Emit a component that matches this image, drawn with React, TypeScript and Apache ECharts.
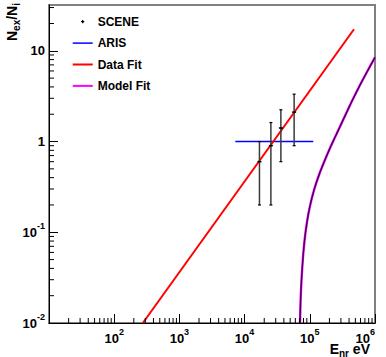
import React, { useEffect, useRef } from "react";
import * as echarts from "echarts";

// SCENE measurements: nuclear recoil energy (eV), ratio, error-bar bounds
const SCENE_ENERGY = [16900, 25300, 36000, 57500];
const SCENE_RATIO = [0.6, 0.9, 1.41, 2.11];
const SCENE_LOW = [0.2, 0.2, 0.6, 0.9];
const SCENE_HIGH = [1.0, 1.62, 2.24, 3.33];

// ARIS: single ratio with a horizontal energy span
const ARIS_ENERGY = [7200, 113000];
const ARIS_RATIO = [1.0, 1.0];

// Power-law fit to the data
const DATA_FIT_ENERGY = [275, 476000];
const DATA_FIT_RATIO = [0.01, 17.3];

// Model fit curve
const MODEL_FIT_ENERGY = [
  70740, 72250, 74590, 78080, 83230, 90600, 100700, 116000, 138400, 168100,
  207700, 261400, 334600, 443800, 588800, 767400, 1000000,
];
const MODEL_FIT_RATIO = [
  0.01, 0.0179, 0.0298, 0.0495, 0.0822, 0.13, 0.195, 0.292, 0.428, 0.61,
  0.871, 1.243, 1.82, 2.8, 4.2, 6.0, 8.49,
];

// Axis ranges and ticks
const X_MIN = 10;
const X_MAX = 1000000;
const Y_MIN = 0.01;
const Y_MAX = 32;
const X_MAJOR_TICKS = [10, 100, 1000, 10000, 100000, 1000000];
const Y_MAJOR_TICKS = [0.01, 0.1, 1, 10];
const X_DECADES = [10, 100, 1000, 10000, 100000];
const Y_DECADES = [0.01, 0.1, 1, 10];
const MINOR_STEPS = [2, 3, 4, 5, 6, 7, 8, 9];

const FONT = "'Liberation Sans', Arial, Helvetica, sans-serif";

const xMinor = X_DECADES.flatMap((d) => MINOR_STEPS.map((s) => d * s)).filter((v) => v < X_MAX);
const yMinor = Y_DECADES.flatMap((d) => MINOR_STEPS.map((s) => d * s)).filter((v) => v < Y_MAX);

const powerLabel = (v: number, plainUpTo: number) => {
  const e = Math.round(Math.log10(v));
  if (Math.abs(Math.log10(v) - e) > 1e-6) return "";
  if (e === 0) return "{b|1}";
  if (e === 1 && plainUpTo >= 1) return "{b|10}";
  return `{b|10}{s|${e}}`;
};

const labelRich = {
  b: { fontFamily: FONT, fontWeight: "bold", fontSize: 13, lineHeight: 22, color: "#000" },
  s: { fontFamily: FONT, fontWeight: "bold", fontSize: 9, lineHeight: 10, verticalAlign: "top", color: "#000" },
};

// Legend icons: the leading moves fix the icon box at 20x14 so the glyph keeps its size
const ICON_MARKER = "path://M0,0M20,14M9.4,5.4h1.2v1.0h1.0v1.2h-1.0v1.0h-1.2v-1.0h-1.0v-1.2h1.0z";
const ICON_THIN_LINE = "path://M0,0M20,14M0,6.25h20v1.5h-20z";
const ICON_LINE = "path://M0,0M20,14M0,6h20v2h-20z";

export default function App() {
  const ref = useRef<HTMLDivElement>(null);

  useEffect(() => {
    if (!ref.current) return;
    const chart = echarts.init(ref.current, undefined, { renderer: "svg" });

    const option: any = {
      animation: false,
      backgroundColor: "#fff",
      grid: {
        left: 49,
        right: 11,
        top: 5,
        bottom: 34,
        show: true,
        borderColor: "#808080",
        borderWidth: 2,
        backgroundColor: "transparent",
      },
      legend: {
        orient: "vertical",
        left: 67.7,
        top: 9.7,
        itemWidth: 20,
        itemHeight: 14,
        itemGap: 7.4,
        selectedMode: false,
        textStyle: { fontFamily: FONT, fontWeight: "bold", fontSize: 12, color: "#000" },
        data: [
          { name: "SCENE", icon: ICON_MARKER },
          { name: "ARIS", icon: ICON_THIN_LINE },
          { name: "Data Fit", icon: ICON_LINE },
          { name: "Model Fit", icon: ICON_LINE },
        ],
      },
      xAxis: {
        type: "log",
        logBase: 10,
        min: X_MIN,
        max: X_MAX,
        axisLine: { show: true, onZero: false, lineStyle: { color: "#000", width: 1 } },
        axisTick: { show: true, inside: true, length: 9, lineStyle: { color: "#000" }, customValues: X_MAJOR_TICKS },
        axisLabel: {
          show: true,
          margin: 4,
          alignMaxLabel: "right",
          customValues: X_MAJOR_TICKS.slice(1),
          formatter: (v: number) => powerLabel(v, 0),
          rich: labelRich,
        },
        splitLine: { show: false },
        minorTick: { show: false },
      },
      yAxis: {
        type: "log",
        logBase: 10,
        min: Y_MIN,
        max: Y_MAX,
        axisLine: { show: true, onZero: false, lineStyle: { color: "#000", width: 1 } },
        axisTick: { show: true, inside: true, length: 9, lineStyle: { color: "#000" }, customValues: Y_MAJOR_TICKS },
        axisLabel: {
          show: true,
          margin: 4,
          customValues: Y_MAJOR_TICKS,
          formatter: (v: number) => powerLabel(v, 1),
          rich: labelRich,
        },
        splitLine: { show: false },
        minorTick: { show: false },
      },
      graphic: [
        {
          type: "text",
          x: 12,
          y: 3,
          rotation: Math.PI / 2,
          style: {
            text: "{b|N}{s|ex}{b|/N}{s|i}",
            align: "right",
            verticalAlign: "middle",
            rich: {
              b: { fontFamily: FONT, fontWeight: "bold", fontSize: 14, lineHeight: 18, fill: "#000" },
              s: { fontFamily: FONT, fontWeight: "bold", fontSize: 10, lineHeight: 10, verticalAlign: "bottom", fill: "#000" },
            },
          },
        },
        {
          type: "text",
          x: 370,
          y: 349,
          style: {
            text: "{b|E}{s|nr}{b| eV}",
            align: "right",
            verticalAlign: "middle",
            rich: {
              b: { fontFamily: FONT, fontWeight: "bold", fontSize: 14, lineHeight: 18, fill: "#000" },
              s: { fontFamily: FONT, fontWeight: "bold", fontSize: 10, lineHeight: 10, verticalAlign: "bottom", fill: "#000" },
            },
          },
        },
      ],
      series: [
        {
          name: "xMinorTicks",
          type: "custom",
          silent: true,
          clip: false,
          z: 5,
          data: xMinor.map((v) => [v, Y_MIN]),
          renderItem: (_p: any, api: any) => {
            const pt = api.coord([api.value(0), api.value(1)]);
            return {
              type: "line",
              shape: { x1: pt[0], y1: pt[1], x2: pt[0], y2: pt[1] - 5 },
              style: { stroke: "#000", lineWidth: 1 },
            };
          },
        },
        {
          name: "yMinorTicks",
          type: "custom",
          silent: true,
          clip: false,
          z: 5,
          data: yMinor.map((v) => [X_MIN, v]),
          renderItem: (_p: any, api: any) => {
            const pt = api.coord([api.value(0), api.value(1)]);
            return {
              type: "line",
              shape: { x1: pt[0], y1: pt[1], x2: pt[0] + 5, y2: pt[1] },
              style: { stroke: "#000", lineWidth: 1 },
            };
          },
        },
        {
          name: "ARIS",
          type: "line",
          symbol: "none",
          z: 3,
          lineStyle: { color: "#0000ff", width: 1.5 },
          itemStyle: { color: "#0000ff" },
          data: ARIS_ENERGY.map((e, i) => [e, ARIS_RATIO[i]]),
        },
        {
          name: "Data Fit",
          type: "line",
          symbol: "none",
          z: 3,
          lineStyle: { color: "#ff0000", width: 2 },
          itemStyle: { color: "#ff0000" },
          data: DATA_FIT_ENERGY.map((e, i) => [e, DATA_FIT_RATIO[i]]),
        },
        {
          name: "Model Fit",
          type: "line",
          symbol: "none",
          smooth: 0.2,
          z: 3,
          lineStyle: { color: "#ff00ff", width: 2.4 },
          itemStyle: { color: "#ff00ff" },
          data: MODEL_FIT_ENERGY.map((e, i) => [e, MODEL_FIT_RATIO[i]]),
        },
        {
          name: "Model Fit core",
          type: "line",
          symbol: "none",
          smooth: 0.2,
          z: 4,
          lineStyle: { color: "#2a0845", width: 1.2 },
          itemStyle: { color: "#2a0845" },
          data: MODEL_FIT_ENERGY.map((e, i) => [e, MODEL_FIT_RATIO[i]]),
        },
        {
          name: "SCENE",
          type: "custom",
          z: 6,
          itemStyle: { color: "#000" },
          encode: { x: 0, y: [1, 2, 3] },
          data: SCENE_ENERGY.map((e, i) => [e, SCENE_RATIO[i], SCENE_LOW[i], SCENE_HIGH[i]]),
          renderItem: (_p: any, api: any) => {
            const e = api.value(0);
            const c = api.coord([e, api.value(1)]);
            const lo = api.coord([e, api.value(2)]);
            const hi = api.coord([e, api.value(3)]);
            const x = c[0];
            return {
              type: "group",
              children: [
                { type: "line", shape: { x1: x, y1: lo[1], x2: x, y2: hi[1] }, style: { stroke: "#3a3a3a", lineWidth: 1.5 } },
                { type: "line", shape: { x1: x - 1.5, y1: lo[1], x2: x + 1.5, y2: lo[1] }, style: { stroke: "#000", lineWidth: 1.2 } },
                { type: "line", shape: { x1: x - 1.5, y1: hi[1], x2: x + 1.5, y2: hi[1] }, style: { stroke: "#000", lineWidth: 1.2 } },
                { type: "line", shape: { x1: x - 2, y1: c[1], x2: x + 2, y2: c[1] }, style: { stroke: "#000", lineWidth: 1.5 } },
              ],
            };
          },
        },
      ],
    };

    chart.setOption(option);
    return () => chart.dispose();
  }, []);

  return (
    <div
      ref={ref}
      style={{ position: "fixed", left: 0, top: 0, width: 386, height: 357, background: "#fff" }}
    />
  );
}
